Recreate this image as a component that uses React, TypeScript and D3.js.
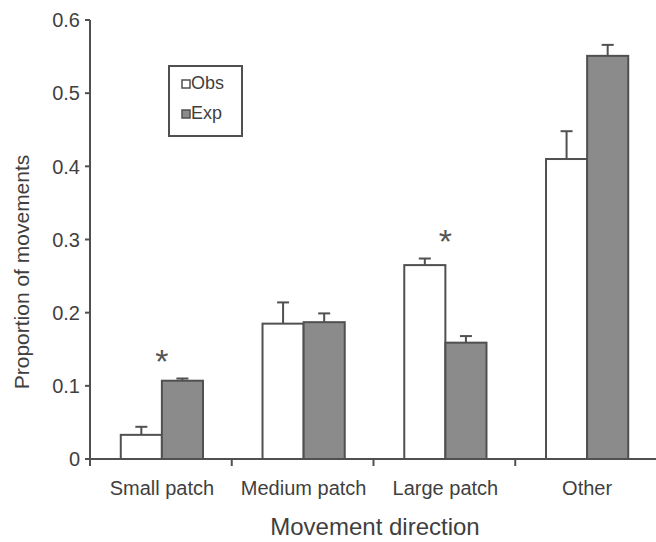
import * as d3 from 'd3';

const categories = ['Small patch', 'Medium patch', 'Large patch', 'Other'];
const obsValues = [0.033, 0.185, 0.265, 0.41];
const obsErrors = [0.011, 0.029, 0.009, 0.038];
const expValues = [0.107, 0.187, 0.159, 0.551];
const expErrors = [0.003, 0.012, 0.009, 0.015];
// asterisk level (data units) where a difference is significant, null otherwise
const significance = [0.138, null, 0.302, null];
const yTicks = [0, 0.1, 0.2, 0.3, 0.4, 0.5, 0.6];
const seriesNames = ['Obs', 'Exp'];

const width = 656;
const height = 542;
const margin = { left: 90, right: 0, top: 20, bottom: 83 };

const ink = '#3f3f3f';
const line = '#505050';
const grayFill = '#8b8b8b';
const font = 'Arial, "Liberation Sans", sans-serif';

export default function App() {
  const x = d3
    .scaleBand()
    .domain(categories)
    .range([margin.left, width + 1 - margin.right]);
  const y = d3
    .scaleLinear()
    .domain([0, 0.6])
    .range([height - margin.bottom, margin.top]);

  const bw = x.bandwidth() * 0.29;
  const y0 = y(0);
  const capHalf = 6;

  const boundaries = categories.map((c) => x(c) ?? 0).concat([(x(categories[categories.length - 1]) ?? 0) + x.bandwidth()]);

  const bars = categories.flatMap((c, i) => {
    const center = (x(c) ?? 0) + x.bandwidth() / 2 + 1;
    return [
      { key: `o${i}`, x: center - bw, v: obsValues[i], e: obsErrors[i], fill: '#ffffff' },
      { key: `e${i}`, x: center, v: expValues[i], e: expErrors[i], fill: grayFill }
    ];
  });

  return (
    <div style={{ position: 'fixed', left: 0, top: 0 }}>
      <svg width={width} height={height} style={{ display: 'block', background: '#fff' }} fontFamily={font}>
        {/* bars */}
        {bars.map((b) => (
          <g key={b.key}>
            <line x1={b.x + bw / 2} x2={b.x + bw / 2} y1={y(b.v)} y2={y(b.v + b.e)} stroke={line} strokeWidth={2} />
            <line x1={b.x + bw / 2 - capHalf} x2={b.x + bw / 2 + capHalf} y1={y(b.v + b.e)} y2={y(b.v + b.e)} stroke={line} strokeWidth={2} />
            <rect x={b.x} y={y(b.v)} width={bw} height={y0 - y(b.v)} fill={b.fill} stroke={line} strokeWidth={2} />
          </g>
        ))}

        {/* significance marks */}
        {significance.map((s, i) =>
          s == null ? null : (
            <text
              key={`s${i}`}
              x={(x(categories[i]) ?? 0) + x.bandwidth() / 2 + 1}
              y={y(s) + 15}
              textAnchor="middle"
              fontSize={34}
              fill="#555"
            >
              *
            </text>
          )
        )}

        {/* y axis */}
        <line x1={margin.left} x2={margin.left} y1={y(0.6)} y2={y0 + 6} stroke={line} strokeWidth={2} />
        {yTicks.map((t) => (
          <g key={t}>
            <line x1={margin.left - 5} x2={margin.left} y1={y(t)} y2={y(t)} stroke={line} strokeWidth={2} />
            <text x={margin.left - 10} y={y(t)} dy="0.36em" textAnchor="end" fontSize={20} fill={ink}>
              {t === 0 ? '0' : t.toFixed(1)}
            </text>
          </g>
        ))}

        {/* x axis */}
        <line x1={margin.left} x2={width} y1={y0} y2={y0} stroke={line} strokeWidth={2} />
        {boundaries.map((bx, i) => (
          <line key={i} x1={bx} x2={bx} y1={y0} y2={y0 + 7} stroke={line} strokeWidth={2} />
        ))}
        {categories.map((c) => (
          <text key={c} x={(x(c) ?? 0) + x.bandwidth() / 2 + 1} y={y0 + 36} textAnchor="middle" fontSize={20} fill={ink}>
            {c}
          </text>
        ))}

        {/* axis titles */}
        <text x={375} y={535} textAnchor="middle" fontSize={24} fill={ink}>
          Movement direction
        </text>
        <text transform={`translate(29,${272}) rotate(-90)`} textAnchor="middle" fontSize={21} fill={ink}>
          Proportion of movements
        </text>

        {/* legend */}
        <rect x={169} y={66} width={73} height={70} fill="#fff" stroke={line} strokeWidth={2} />
        {seriesNames.map((n, i) => (
          <g key={n}>
            <rect x={182} y={80 + i * 30} width={8} height={8} fill={i === 0 ? '#fff' : grayFill} stroke={line} strokeWidth={1.5} />
            <text x={191} y={89 + i * 30} fontSize={18} fill={ink}>
              {n}
            </text>
          </g>
        ))}
      </svg>
    </div>
  );
}
